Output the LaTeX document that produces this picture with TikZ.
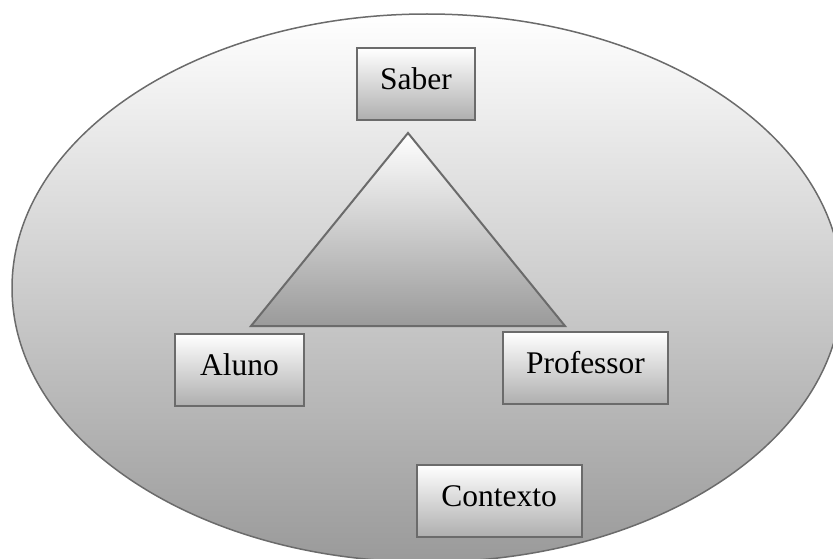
\documentclass[tikz,border=0pt]{standalone}
\usepackage{fontspec}
\setmainfont{Liberation Serif}
\definecolor{rim}{HTML}{6B6B6B}
\definecolor{fundo}{HTML}{9A9A9A}
\begin{document}
\begin{tikzpicture}[x=1pt,y=-1pt,
		caixa/.style={draw=rim,line width=2pt,top color=white,bottom color=fundo!80!white,
			minimum height=72pt,text height=22pt,text depth=12pt,inner xsep=0pt,
			font=\fontsize{31.5}{36}\selectfont}]
		\useasboundingbox (0,0) rectangle (833,559);
		\clip (0,0) rectangle (833,559);
		
		\draw[rim,line width=1.5pt,top color=white,bottom color=fundo] (427,288) ellipse [x radius=415pt,y radius=274pt];
		\draw[rim,line width=2pt,top color=white,bottom color=fundo] (408,133) -- (565,326) -- (251,326) -- cycle;
		
		\node[caixa,minimum width=118pt] (saber) at (416,84.5) {Saber};
		\node[caixa,minimum width=129pt] (aluno) at (239.5,370) {Aluno};
		\node[caixa,minimum width=165pt] (professor) at (585.5,368) {Professor};
		\node[caixa,minimum width=165pt] (contexto) at (499,501) {Contexto};
	\end{tikzpicture}
\end{document}
